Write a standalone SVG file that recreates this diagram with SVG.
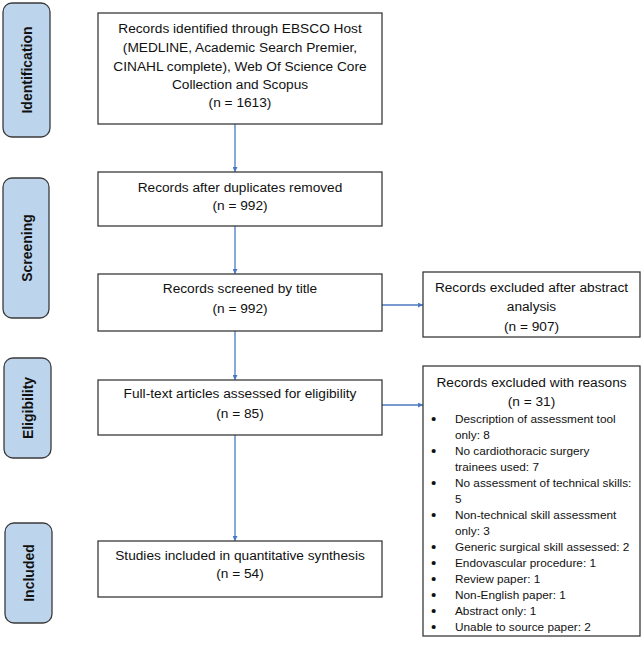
<svg xmlns="http://www.w3.org/2000/svg" width="644" height="648" viewBox="0 0 644 648">
<style>
.box{fill:#fff;stroke:#3a3a3a;stroke-width:1.3}
.side{fill:#bdd5ec;stroke:#3a3a3a;stroke-width:1.3}
.t{font-family:"Liberation Sans",Arial,sans-serif;font-size:13.7px;fill:#111;text-anchor:middle}
.s{font-family:"Liberation Sans",Arial,sans-serif;font-size:11.8px;fill:#111}
.b{font-size:15px}
.lbl{font-family:"Liberation Sans",Arial,sans-serif;font-size:14px;font-weight:bold;fill:#111;text-anchor:middle}
.c{stroke:#4a78c2;stroke-width:1.3;fill:none;marker-end:url(#ah)}
</style>
<defs>
<marker id="ah" viewBox="0 0 10 10" refX="10" refY="5" markerWidth="5" markerHeight="5" orient="auto" markerUnits="userSpaceOnUse">
<path d="M0,0 L10,5 L0,10 z" fill="#4a78c2"/>
</marker>
</defs>
<rect width="644" height="648" fill="#fff"/>
<g id="stage-identification"><rect class="side" x="3" y="3" width="47" height="134" rx="9"/><text class="lbl" transform="translate(32,70) rotate(-90)">Identification</text></g>
<g id="stage-screening"><rect class="side" x="3" y="178" width="46" height="140" rx="9"/><text class="lbl" transform="translate(32,248) rotate(-90)">Screening</text></g>
<g id="stage-eligibility"><rect class="side" x="4" y="358" width="47" height="100" rx="9"/><text class="lbl" transform="translate(33,408) rotate(-90)">Eligibility</text></g>
<g id="stage-included"><rect class="side" x="5" y="523" width="47" height="100" rx="9"/><text class="lbl" transform="translate(34,573) rotate(-90)">Included</text></g>
<g id="connectors">
<line class="c" x1="235" y1="124" x2="235" y2="172"/>
<line class="c" x1="235" y1="226" x2="235" y2="274"/>
<line class="c" x1="235" y1="331" x2="235" y2="380"/>
<line class="c" x1="235" y1="435" x2="235" y2="541"/>
<line class="c" x1="382" y1="305" x2="423" y2="305"/>
<line class="c" x1="382" y1="405" x2="423" y2="405"/>
</g>
<g id="identified"><rect class="box" x="98" y="13" width="284" height="111"/>
<text class="t" x="240" y="33">Records identified through EBSCO Host</text>
<text class="t" x="240" y="52">(MEDLINE, Academic Search Premier,</text>
<text class="t" x="240" y="71">CINAHL complete), Web Of Science Core</text>
<text class="t" x="240" y="89">Collection and Scopus</text>
<text class="t" x="240" y="107">(n = 1613)</text></g>
<g id="deduplicated"><rect class="box" x="98" y="172" width="284" height="54"/>
<text class="t" x="240" y="192">Records after duplicates removed</text>
<text class="t" x="240" y="210">(n = 992)</text></g>
<g id="screened"><rect class="box" x="98" y="274" width="284" height="57"/>
<text class="t" x="240" y="293">Records screened by title</text>
<text class="t" x="240" y="313">(n = 992)</text></g>
<g id="fulltext"><rect class="box" x="98" y="380" width="284" height="55"/>
<text class="t" x="240" y="398">Full-text articles assessed for eligibility</text>
<text class="t" x="240" y="418">(n = 85)</text></g>
<g id="included"><rect class="box" x="98" y="541" width="284" height="56"/>
<text class="t" x="240" y="560">Studies included in quantitative synthesis</text>
<text class="t" x="240" y="578">(n = 54)</text></g>
<g id="excluded-abstract"><rect class="box" x="423" y="272" width="217" height="65"/>
<text class="t" x="531.5" y="292">Records excluded after abstract</text>
<text class="t" x="531.5" y="311">analysis</text>
<text class="t" x="531.5" y="331">(n = 907)</text></g>
<g id="excluded-reasons"><rect class="box" x="423" y="366" width="217" height="270"/>
<text class="t" x="531.5" y="387">Records excluded with reasons</text>
<text class="t" x="531.5" y="406">(n = 31)</text>
<g class="s">
<text class="b" x="431" y="424">•</text><text x="455" y="423">Description of assessment tool</text>
<text x="455" y="439">only: 8</text>
<text class="b" x="431" y="456">•</text><text x="455" y="455">No cardiothoracic surgery</text>
<text x="455" y="471">trainees used: 7</text>
<text class="b" x="431" y="488">•</text><text x="455" y="487">No assessment of technical skills:</text>
<text x="455" y="503">5</text>
<text class="b" x="431" y="520">•</text><text x="455" y="519">Non-technical skill assessment</text>
<text x="455" y="535">only: 3</text>
<text class="b" x="431" y="552">•</text><text x="455" y="551">Generic surgical skill assessed: 2</text>
<text class="b" x="431" y="568">•</text><text x="455" y="567">Endovascular procedure: 1</text>
<text class="b" x="431" y="584">•</text><text x="455" y="583">Review paper: 1</text>
<text class="b" x="431" y="600">•</text><text x="455" y="599">Non-English paper: 1</text>
<text class="b" x="431" y="616">•</text><text x="455" y="615">Abstract only: 1</text>
<text class="b" x="431" y="632">•</text><text x="455" y="631">Unable to source paper: 2</text>
</g></g>
</svg>
